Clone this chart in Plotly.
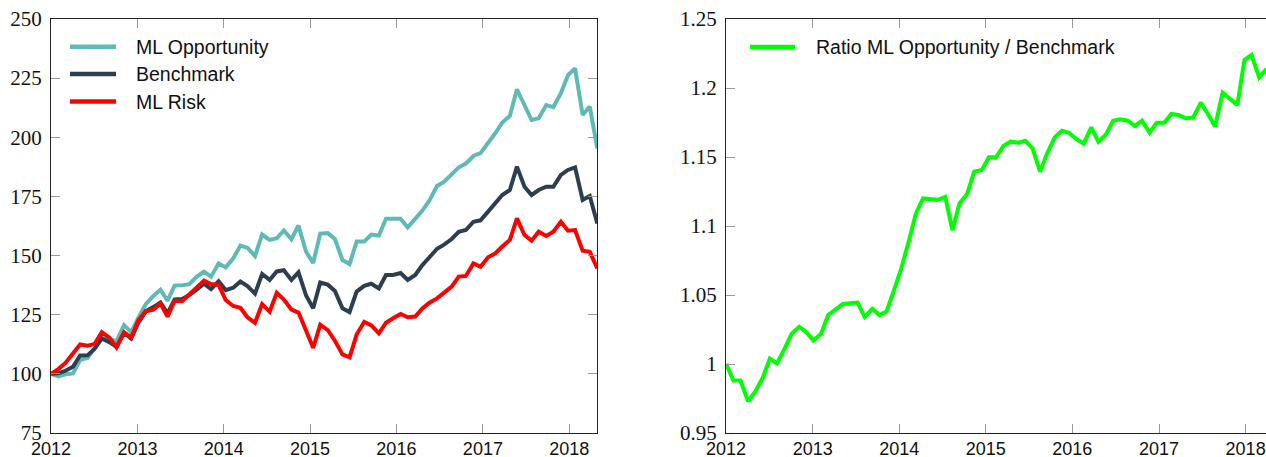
import pandas as pd
import plotly.graph_objects as go

# ---- data ----
dates = pd.date_range("2012-01-02", periods=76, freq="22B")

ml_opportunity = [
    100.0, 98.9, 99.8, 100.2, 105.8, 106.8, 111.0, 115.2, 114.6, 113.8,
    120.6, 117.6, 123.6, 129.5, 132.7, 135.5, 131.0, 137.3, 137.5, 137.9,
    141.1, 143.2, 141.1, 146.7, 145.0, 148.8, 154.2, 153.3, 149.8, 158.9,
    156.6, 157.3, 160.6, 156.9, 162.7, 151.6, 146.9, 159.3, 159.5, 157.0,
    148.1, 146.4, 155.9, 155.9, 158.9, 158.5, 165.6, 165.5, 165.6, 161.9,
    165.7, 169.0, 173.3, 179.4, 181.2, 184.1, 187.3, 188.9, 192.1, 193.3,
    197.4, 201.7, 206.2, 209.0, 220.3, 213.6, 207.3, 208.0, 213.6, 212.7,
    218.6, 226.3, 229.1, 209.4, 213.0, 195.3,
]
benchmark = [
    100.0, 100.2, 101.3, 103.0, 107.8, 107.9, 110.6, 115.0, 113.4, 111.4,
    117.3, 114.9, 121.5, 126.5, 128.1, 130.2, 125.6, 131.5, 131.6, 133.3,
    135.7, 138.1, 135.8, 139.1, 135.4, 136.4, 139.0, 137.1, 133.9, 142.2,
    139.7, 143.3, 143.8, 139.7, 142.9, 133.1, 127.7, 138.6, 137.7, 135.0,
    127.7, 126.1, 134.8, 137.2, 138.1, 136.1, 141.8, 141.8, 142.6, 139.7,
    141.8, 146.0, 149.3, 152.9, 154.6, 157.0, 160.0, 160.8, 164.3, 164.9,
    168.6, 172.1, 175.6, 177.7, 187.6, 179.1, 175.6, 177.7, 179.1, 179.1,
    184.1, 186.2, 187.3, 173.5, 175.2, 163.6,
]
ml_risk = [
    100.0, 102.0, 104.6, 108.5, 112.4, 111.9, 112.7, 117.6, 115.3, 111.2,
    117.6, 115.3, 122.5, 126.5, 127.0, 129.7, 124.2, 130.9, 130.7, 133.6,
    136.4, 139.4, 138.0, 137.6, 131.2, 128.7, 127.9, 123.9, 121.6, 129.5,
    126.3, 134.3, 131.4, 127.2, 125.9, 117.9, 111.0, 120.8, 118.5, 114.0,
    108.2, 107.0, 116.6, 122.0, 120.5, 117.1, 121.6, 123.5, 125.3, 123.9,
    124.2, 127.7, 130.1, 131.9, 134.3, 136.9, 141.1, 141.4, 146.7, 145.3,
    149.3, 150.9, 153.8, 156.6, 165.7, 158.7, 156.3, 160.1, 158.3, 160.1,
    164.3, 160.5, 160.8, 152.1, 151.6, 144.6,
]
ratio = [
    1.000, 0.988, 0.988, 0.973, 0.980, 0.990, 1.004, 1.0005, 1.011, 1.022,
    1.027, 1.023, 1.017, 1.022, 1.0355, 1.040, 1.0435, 1.044, 1.0445, 1.034,
    1.040, 1.0355, 1.038, 1.0536, 1.069, 1.089, 1.109, 1.120, 1.1196, 1.119,
    1.121, 1.097, 1.1164, 1.1232, 1.1394, 1.1406, 1.1498, 1.1498, 1.1582, 1.1611,
    1.1604, 1.1618, 1.1563, 1.1394, 1.1527, 1.1643, 1.1691, 1.1676, 1.1628, 1.1599,
    1.1715, 1.1611, 1.1659, 1.1763, 1.1773, 1.1763, 1.1725, 1.1763, 1.1676, 1.1749,
    1.1749, 1.1812, 1.1804, 1.1780, 1.1787, 1.1894, 1.1812, 1.1720, 1.1966, 1.1925,
    1.1877, 1.2203, 1.2239, 1.2077, 1.2135, 1.195,
]

left_series = [
    ("ML Opportunity", ml_opportunity, "rgb(95,185,180)"),
    ("Benchmark", benchmark, "rgb(44,62,80)"),
    ("ML Risk", ml_risk, "rgb(255,0,0)"),
]
ratio_name = "Ratio ML Opportunity / Benchmark"
ratio_color = "rgb(0,255,0)"

year_ticks = ["2012-01-01", "2013-01-01", "2014-01-01", "2015-01-01",
              "2016-01-01", "2017-01-01", "2018-01-01"]
year_labels = ["2012", "2013", "2014", "2015", "2016", "2017", "2018"]
left_yticks = [75, 100, 125, 150, 175, 200, 225, 250]
right_yticks = [0.95, 1.0, 1.05, 1.1, 1.15, 1.2, 1.25]
right_ylabels = ["0.95", "1", "1.05", "1.1", "1.15", "1.2", "1.25"]

# ---- figure ----
W, H = 1266, 457
LINE_W = 4

fig = go.Figure()
for name, vals, col in left_series:
    fig.add_trace(go.Scatter(x=dates, y=vals, mode="lines", name=name,
                             line=dict(color=col, width=LINE_W),
                             xaxis="x", yaxis="y", showlegend=False))
fig.add_trace(go.Scatter(x=dates, y=ratio, mode="lines", name=ratio_name,
                         line=dict(color=ratio_color, width=LINE_W),
                         xaxis="x2", yaxis="y2", showlegend=False))

sans = "Liberation Sans, Arial, sans-serif"
serif = "Liberation Serif, Times New Roman, serif"

common_x = dict(type="date", tickmode="array", tickvals=year_ticks, ticktext=year_labels,
                ticks="inside", ticklen=9, tickwidth=1, tickcolor="#999999",
                showline=True, linecolor="#222222", linewidth=1.2,
                mirror="allticks", showgrid=False, zeroline=False,
                tickfont=dict(family=sans, size=18, color="#111111"),
                ticklabelstandoff=-1)
common_y = dict(ticks="inside", ticklen=9, tickwidth=1, tickcolor="#999999",
                showline=True, linecolor="#222222", linewidth=1.2,
                showgrid=False, zeroline=False,
                tickfont=dict(family=serif, size=21, color="#111111"),
                ticklabelstandoff=4)

left_w = 597.3 - 51
plot_w = W - 51
fig.update_layout(
    width=W, height=H,
    margin=dict(l=51, r=0, t=19, b=24, autoexpand=False),
    paper_bgcolor="white", plot_bgcolor="white",
    showlegend=False,
    xaxis=dict(common_x, domain=[0, left_w / plot_w],
               range=["2012-01-01", dates[-1]], anchor="y"),
    yaxis=dict(common_y, domain=[0, 1], range=[75, 250], tickmode="array",
               tickvals=left_yticks, mirror="allticks", anchor="x"),
    xaxis2=dict(common_x, domain=[(726 - 51) / plot_w, 1],
                range=["2012-01-01", "2018-03-28"], anchor="y2"),
    yaxis2=dict(common_y, domain=[0, 1], range=[0.95, 1.25], tickmode="array",
                tickvals=right_yticks, ticktext=right_ylabels, mirror=False, anchor="x2"),
)

# ---- legends drawn inside each panel ----
plot_h = 433 - 19
def add_legend(xref, yref, width_px, x0px, x1px, xtext_px, rows):
    for (label, col), ypx in rows:
        yf = (433 - ypx) / plot_h
        fig.add_shape(type="line", xref=xref, yref=yref,
                      x0=x0px / width_px, x1=x1px / width_px, y0=yf, y1=yf,
                      line=dict(color=col, width=LINE_W + 0.5))
        fig.add_annotation(xref=xref, yref=yref, x=xtext_px / width_px, y=yf,
                           text=label, showarrow=False, xanchor="left", yanchor="middle",
                           font=dict(family=sans, size=19.5, color="#111111"))

add_legend("x domain", "y domain", left_w, 70 - 51, 116 - 51, 136 - 51 - 2,
           [((n, c), y) for (n, _, c), y in zip(left_series, [46.7, 74.0, 101.5])])
add_legend("x2 domain", "y2 domain", W - 726, 750 - 726, 795 - 726, 815.5 - 726 - 2,
           [((ratio_name, ratio_color), 47.0)])

fig.write_html("out.html",
               config={"displayModeBar": False},
               post_script="document.body.style.margin='0px';"
                           "document.body.style.overflow='hidden';")
